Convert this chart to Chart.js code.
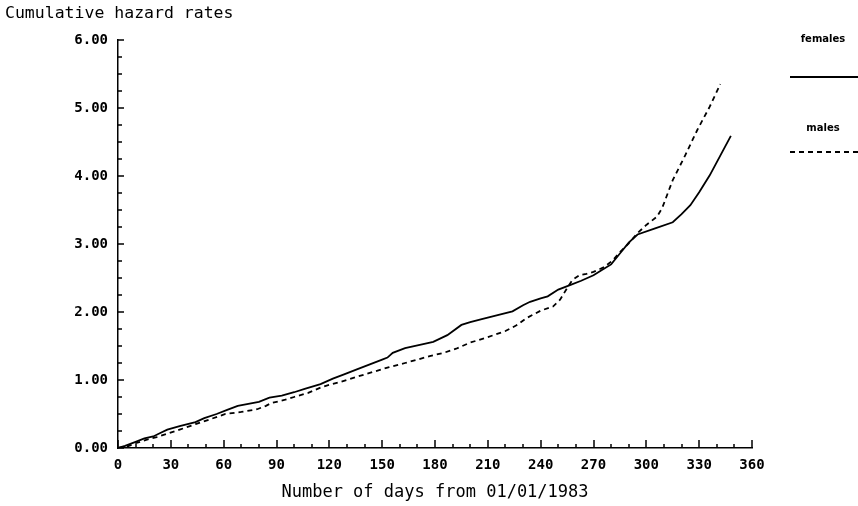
<!DOCTYPE html>
<html>
<head>
<meta charset="utf-8">
<script src="https://cdn.jsdelivr.net/npm/chart.js@4.4.1/dist/chart.umd.min.js"></script>
<style>
  html, body { margin: 0; padding: 0; background: #fff; }
  #wrap { width: 858px; height: 506px; }
</style>
</head>
<body>
<div id="wrap"><canvas id="hazardChart" width="858" height="506"></canvas></div>
<script>
// cumulative hazard estimates
const femaleDays = [0, 4, 10, 15, 20, 24, 28, 35, 44, 49, 56, 62, 68, 74, 80, 86, 93, 100, 106, 115,
  122, 128, 136, 143, 150, 153, 156, 163, 172, 179, 187, 195, 200, 206, 215, 224, 230, 234, 240, 244,
  250, 257, 263, 270, 275, 280, 285, 290, 295, 305, 315, 320, 325, 330, 336, 342, 348];
const femaleHazard = [0, 0.03, 0.09, 0.14, 0.17, 0.22, 0.27, 0.32, 0.38, 0.44, 0.50, 0.56, 0.62, 0.65, 0.68, 0.74, 0.77, 0.82, 0.87, 0.94,
  1.02, 1.08, 1.16, 1.23, 1.30, 1.33, 1.40, 1.47, 1.52, 1.56, 1.66, 1.81, 1.85, 1.89, 1.95, 2.01, 2.10, 2.15, 2.20, 2.23,
  2.33, 2.40, 2.46, 2.54, 2.62, 2.70, 2.86, 3.02, 3.14, 3.23, 3.32, 3.44, 3.57, 3.76, 4.01, 4.30, 4.59];

const maleDays = [0, 5, 10, 16, 22, 28, 35, 44, 52, 61, 70, 79, 84, 87, 95, 100, 108, 116, 126, 136,
  145, 154, 163, 170, 177, 185, 192, 200, 210, 220, 226, 232, 240, 247, 251, 255, 258, 262, 266, 270,
  276, 281, 285, 290, 295, 300, 306, 309, 315, 322, 329, 336, 342];
const maleHazard = [0, 0.02, 0.07, 0.12, 0.16, 0.21, 0.27, 0.35, 0.42, 0.50, 0.53, 0.57, 0.62, 0.66, 0.71, 0.75, 0.81, 0.90, 0.97, 1.05,
  1.12, 1.19, 1.25, 1.30, 1.35, 1.40, 1.46, 1.55, 1.63, 1.72, 1.80, 1.91, 2.02, 2.08, 2.18, 2.35, 2.47, 2.54, 2.56, 2.59,
  2.66, 2.76, 2.88, 3.01, 3.16, 3.28, 3.40, 3.53, 3.94, 4.30, 4.68, 5.02, 5.35];

const seriesNames = ["females", "males"];
const yTitle = "Cumulative hazard rates";
const xTitle = "Number of days from 01/01/1983";

const MONO = "'DejaVu Sans Mono', monospace";

const toPoints = (xs, ys) => xs.map((d, i) => ({ x: d, y: ys[i] }));

// inward tick marks (major + minor), y title and the side legend
const plotDecor = {
  id: "plotDecor",
  afterDraw(chart) {
    const ctx = chart.ctx;
    const xs = chart.scales.x;
    const ys = chart.scales.y;
    const area = chart.chartArea;

    ctx.save();
    ctx.strokeStyle = "#000";
    ctx.lineWidth = 1.5;
    ctx.beginPath();
    for (let d = 0; d <= 360; d += 10) {
      const px = Math.round(xs.getPixelForValue(d));
      const len = d % 30 === 0 ? 8 : 4;
      ctx.moveTo(px, area.bottom);
      ctx.lineTo(px, area.bottom - len);
    }
    for (let k = 0; k <= 24; k++) {
      const py = Math.round(ys.getPixelForValue(k / 4));
      const len = k % 4 === 0 ? 6 : 4;
      ctx.moveTo(area.left, py);
      ctx.lineTo(area.left + len, py);
    }
    ctx.stroke();

    ctx.fillStyle = "#000";
    ctx.font = "16.5px " + MONO;
    ctx.textBaseline = "middle";
    ctx.textAlign = "left";
    ctx.fillText(yTitle, 5, 14);

    // legend on the right
    const legendX0 = 790, legendX1 = 858;
    const rows = [{ textY: 39, lineY: 77 }, { textY: 128, lineY: 152 }];
    chart.data.datasets.forEach((ds, i) => {
      ctx.font = "bold 10px 'DejaVu Sans', sans-serif";
      ctx.textAlign = "center";
      ctx.fillText(seriesNames[i], 823, rows[i].textY);
      ctx.beginPath();
      ctx.lineWidth = ds.borderWidth;
      ctx.setLineDash(ds.borderDash || []);
      ctx.moveTo(legendX0, rows[i].lineY);
      ctx.lineTo(legendX1, rows[i].lineY);
      ctx.stroke();
    });
    ctx.restore();
  }
};

new Chart(document.getElementById("hazardChart"), {
  type: "line",
  data: {
    datasets: [
      {
        label: seriesNames[0],
        data: toPoints(femaleDays, femaleHazard),
        borderColor: "#000",
        borderWidth: 1.8,
        pointRadius: 0,
        tension: 0,
      },
      {
        label: seriesNames[1],
        data: toPoints(maleDays, maleHazard),
        borderColor: "#000",
        borderWidth: 1.8,
        borderDash: [5, 4],
        pointRadius: 0,
        tension: 0,
      },
    ],
  },
  options: {
    responsive: false,
    animation: false,
    layout: { padding: { top: 40, right: 106, left: 0, bottom: 0 } },
    plugins: {
      legend: { display: false },
      tooltip: { enabled: false },
    },
    scales: {
      x: {
        type: "linear",
        min: 0,
        max: 360,
        grid: { display: false, drawTicks: false },
        border: { display: true, color: "#000", width: 1.5 },
        ticks: {
          stepSize: 30,
          color: "#000",
          padding: 9,
          maxRotation: 0,
          font: { family: MONO, size: 14, weight: "bold" },
        },
        title: {
          display: true,
          text: xTitle,
          color: "#000",
          padding: { top: 4, bottom: 3 },
          font: { family: MONO, size: 17 },
        },
        afterFit: (scale) => { scale.height = 58; },
      },
      y: {
        min: 0,
        max: 6,
        grid: { display: false, drawTicks: false },
        border: { display: true, color: "#000", width: 1.5 },
        ticks: {
          stepSize: 1,
          color: "#000",
          padding: 10,
          callback: (v) => v.toFixed(2),
          font: { family: MONO, size: 14, weight: "bold" },
        },
        afterFit: (scale) => { scale.width = 118; },
      },
    },
  },
  plugins: [plotDecor],
});
</script>
</body>
</html>
